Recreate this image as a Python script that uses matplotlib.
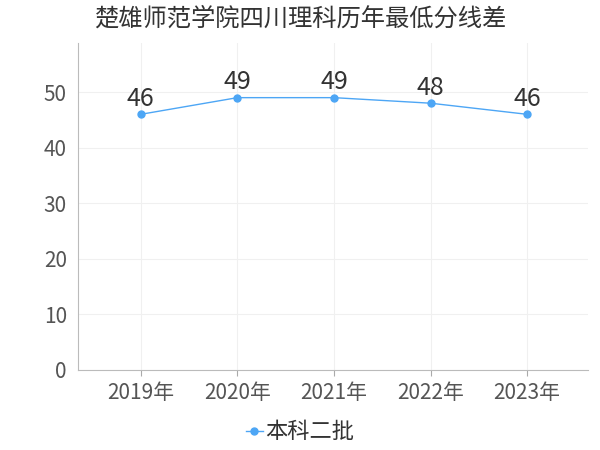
import matplotlib
matplotlib.use("Agg")
import matplotlib.pyplot as plt

plt.rcParams['font.family'] = ['Noto Sans CJK SC', 'DejaVu Sans']

years = ["2019年", "2020年", "2021年", "2022年", "2023年"]
values = [46, 49, 49, 48, 46]
series_name = "本科二批"
title = "楚雄师范学院四川理科历年最低分线差"
yticks = [0, 10, 20, 30, 40, 50]

fig = plt.figure(figsize=(6, 4.5), dpi=100)
ax = fig.add_axes([0.13, 0.178, 0.85, 0.726])

x = list(range(len(years)))
color = "#4da6f5"
ax.plot(x, values, color=color, linewidth=1, marker='o', markersize=5, label=series_name, zorder=3)
for xi, v in zip(x, values):
    ax.text(xi, v + 0.4, str(v), ha='center', va='bottom', fontsize=18, color='#333333', zorder=4)

ax.set_xlim(-0.65, 4.63)
ax.set_ylim(0, 58.8)
ax.set_xticks(x)
ax.set_xticklabels(years)
ax.set_yticks(yticks)
ax.tick_params(axis='x', colors='#aaaaaa', labelcolor='#555555', labelsize=15, length=4, pad=5)
ax.tick_params(axis='y', length=0, labelcolor='#555555', labelsize=15, pad=8)
ax.grid(True, color='#f0f0f0', linewidth=0.8)
ax.set_axisbelow(True)
for s in ['top', 'right']:
    ax.spines[s].set_visible(False)
for s in ['left', 'bottom']:
    ax.spines[s].set_color('#bbbbbb')

fig.text(0.5, 0.958, title, ha='center', va='center', fontsize=17.5, color='#333333')
fig.legend(loc='center', bbox_to_anchor=(0.5, 0.04), frameon=False, fontsize=16,
           handlelength=0.8, handletextpad=0.1, labelcolor='#333333')

fig.savefig("out.png", dpi=100)
